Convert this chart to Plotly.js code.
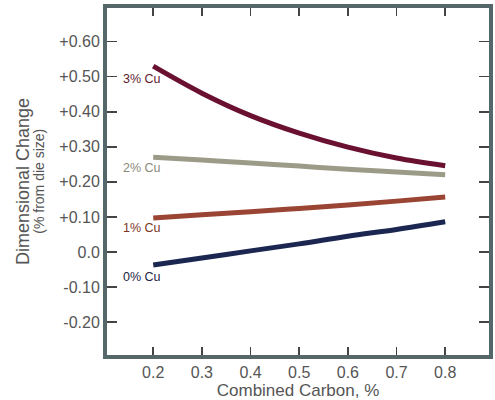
<!DOCTYPE html>
<html>
<head>
<meta charset="utf-8">
<script src="https://cdn.plot.ly/plotly-3.0.1.min.js"></script>
<style>html,body{margin:0;padding:0;background:#fff;}#chart{width:495px;height:400px;}</style>
</head>
<body>
<div id="chart"></div>
<script>
// Data
const carbon = [0.2, 0.3, 0.4, 0.5, 0.6, 0.7, 0.8];
const cu3 = [0.530, 0.453, 0.389, 0.339, 0.299, 0.268, 0.246];
const cu2 = [0.270, 0.262, 0.254, 0.245, 0.236, 0.228, 0.220];
const cu1 = [0.097, 0.106, 0.115, 0.124, 0.134, 0.145, 0.157];
const cu0 = [-0.037, -0.017, 0.003, 0.023, 0.045, 0.064, 0.086];
const seriesNames = ["3% Cu", "2% Cu", "1% Cu", "0% Cu"];
const yTickVals = [0.6, 0.5, 0.4, 0.3, 0.2, 0.1, 0.0, -0.1, -0.2];
const yTickText = ["+0.60", "+0.50", "+0.40", "+0.30", "+0.20", "+0.10", "0.0", "-0.10", "-0.20"];
const xTickVals = [0.2, 0.3, 0.4, 0.5, 0.6, 0.7, 0.8];
const xTickText = ["0.2", "0.3", "0.4", "0.5", "0.6", "0.7", "0.8"];

const colors = ["#6a1030", "#9c9b88", "#9a4434", "#1b2750"];
const labelColors = ["#5e1a2c", "#8a8a7c", "#7c3424", "#1c2444"];
const labelY = [0.494, 0.240, 0.069, -0.071];
const allY = [cu3, cu2, cu1, cu0];

const traces = allY.map((ys, i) => ({
  x: carbon, y: ys, type: "scatter", mode: "lines", name: seriesNames[i],
  line: {color: colors[i], width: 5, shape: "spline", smoothing: 1},
  hoverinfo: "skip"
}));

const font = "Liberation Sans, Arial, sans-serif";
const annotations = seriesNames.map((t, i) => ({
  x: 0.133, y: labelY[i], xref: "x", yref: "y", text: t, showarrow: false,
  xanchor: "left", yanchor: "middle",
  font: {family: font, size: 12.5, color: labelColors[i]}
}));
annotations.push({
  x: -0.18, y: 0.5, xref: "paper", yref: "paper", text: "(% from die size)",
  showarrow: false, textangle: -90, xanchor: "center", yanchor: "middle",
  font: {family: font, size: 14, color: "#555"}
});

const layout = {
  width: 495, height: 400,
  margin: {l: 107, r: 6, t: 8, b: 45},
  paper_bgcolor: "#fff", plot_bgcolor: "#fff",
  showlegend: false,
  font: {family: font, color: "#555"},
  xaxis: {
    range: [0.105, 0.89], tickvals: xTickVals, ticktext: xTickText,
    ticks: "inside", ticklen: 8, tickwidth: 1.5, tickcolor: "#444",
    showline: true, linecolor: "#56676a", linewidth: 4, mirror: "ticks",
    showgrid: false, zeroline: false,
    tickfont: {family: font, size: 16, color: "#555"},
    title: {text: "Combined Carbon, %", font: {family: font, size: 17, color: "#555"}, standoff: 2}
  },
  yaxis: {
    range: [-0.294, 0.696], tickvals: yTickVals, ticktext: yTickText,
    ticks: "inside", ticklen: 10, tickwidth: 1.5, tickcolor: "#444",
    showline: true, linecolor: "#56676a", linewidth: 4, mirror: "ticks",
    showgrid: false, zeroline: false,
    tickfont: {family: font, size: 16, color: "#555"},
    title: {text: "Dimensional Change", font: {family: font, size: 18, color: "#555"}, standoff: 26}
  },
  annotations: annotations
};

Plotly.newPlot("chart", traces, layout, {displayModeBar: false, staticPlot: true});
</script>
</body>
</html>
